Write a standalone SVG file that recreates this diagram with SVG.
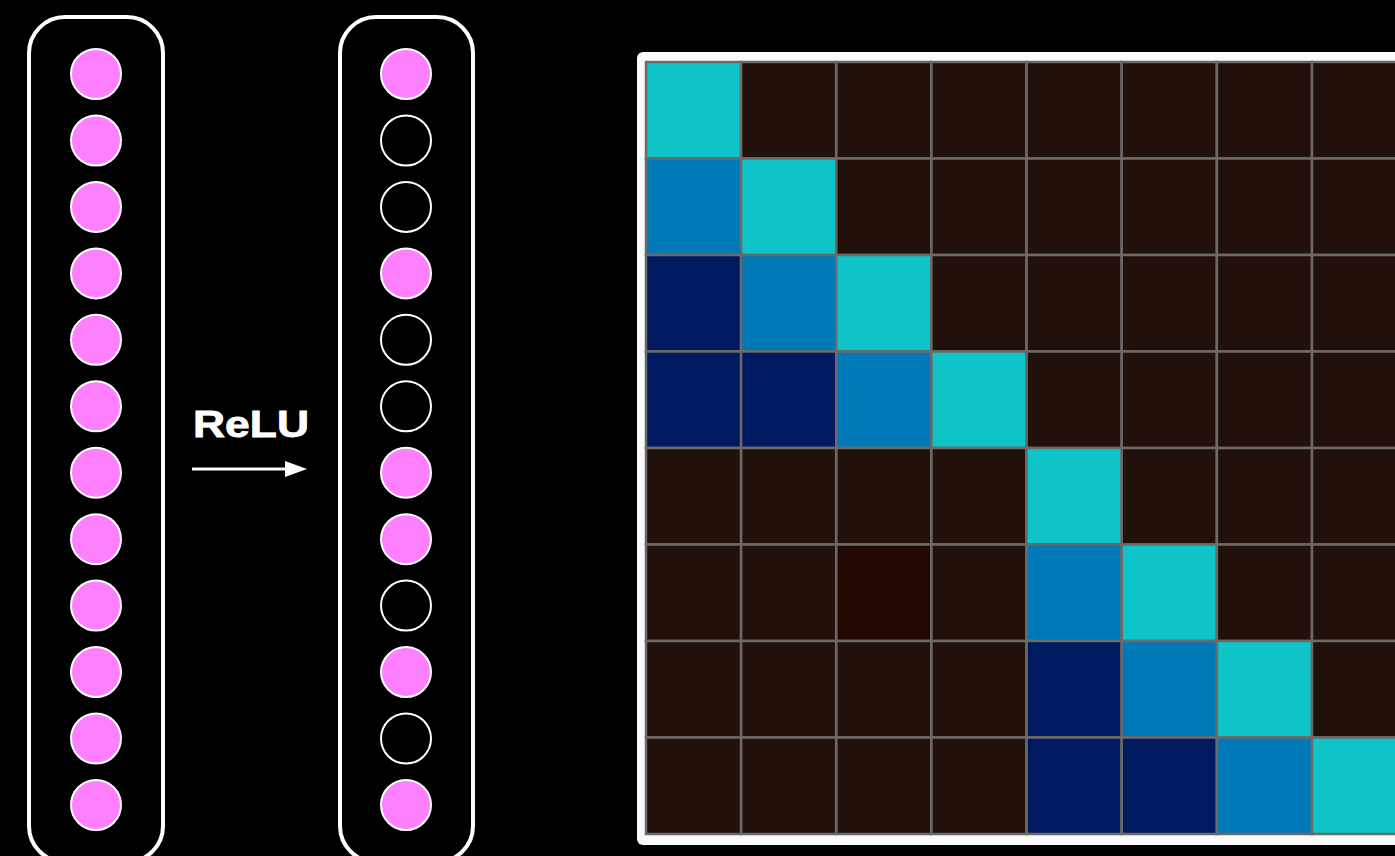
<svg xmlns="http://www.w3.org/2000/svg" width="1395" height="856" viewBox="0 0 1395 856">
<style>
.cap{fill:#000;stroke:#fff;stroke-width:4}
.on{fill:#ff80ff;stroke:#fff;stroke-width:2}
.off{fill:#000;stroke:#fff;stroke-width:2}
.c{stroke:#6c6a68;stroke-width:2.5}
.C{fill:#0ec4c8}.B{fill:#0079b8}.N{fill:#001a62}.D{fill:#22100a}.R{fill:#220800}
.lbl{font-family:"Liberation Sans",Arial,sans-serif;font-weight:bold;font-size:36px;fill:#fff}
</style>
<rect width="1395" height="856" fill="#000"/>
<g id="input-layer">
<rect class="cap" x="29" y="17" width="134" height="845" rx="36"/>
<circle class="on" cx="96" cy="74" r="25"/>
<circle class="on" cx="96" cy="140.5" r="25"/>
<circle class="on" cx="96" cy="206.9" r="25"/>
<circle class="on" cx="96" cy="273.4" r="25"/>
<circle class="on" cx="96" cy="339.8" r="25"/>
<circle class="on" cx="96" cy="406.3" r="25"/>
<circle class="on" cx="96" cy="472.7" r="25"/>
<circle class="on" cx="96" cy="539.2" r="25"/>
<circle class="on" cx="96" cy="605.6" r="25"/>
<circle class="on" cx="96" cy="672.1" r="25"/>
<circle class="on" cx="96" cy="738.5" r="25"/>
<circle class="on" cx="96" cy="805" r="25"/>
</g>
<g id="output-layer">
<rect class="cap" x="340" y="17" width="133" height="845" rx="36"/>
<circle class="on" cx="406" cy="74" r="25"/>
<circle class="off" cx="406" cy="140.5" r="25"/>
<circle class="off" cx="406" cy="206.9" r="25"/>
<circle class="on" cx="406" cy="273.4" r="25"/>
<circle class="off" cx="406" cy="339.8" r="25"/>
<circle class="off" cx="406" cy="406.3" r="25"/>
<circle class="on" cx="406" cy="472.7" r="25"/>
<circle class="on" cx="406" cy="539.2" r="25"/>
<circle class="off" cx="406" cy="605.6" r="25"/>
<circle class="on" cx="406" cy="672.1" r="25"/>
<circle class="off" cx="406" cy="738.5" r="25"/>
<circle class="on" cx="406" cy="805" r="25"/>
</g>
<g id="connectors">
<text class="lbl" x="193" y="437" textLength="116" lengthAdjust="spacingAndGlyphs" stroke="#fff" stroke-width="0.8">ReLU</text>
<line x1="192" y1="469" x2="288" y2="469" stroke="#fff" stroke-width="3"/>
<polygon points="285,461 307,469 285,477" fill="#fff"/>
</g>
<g id="matrix">
<rect x="637" y="52" width="800" height="793" rx="6" fill="#fafafa"/>
<g class="c">
<rect class="C" x="646" y="62" width="95.1" height="96.5"/>
<rect class="D" x="741.1" y="62" width="95.1" height="96.5"/>
<rect class="D" x="836.3" y="62" width="95.1" height="96.5"/>
<rect class="D" x="931.4" y="62" width="95.1" height="96.5"/>
<rect class="D" x="1026.6" y="62" width="95.1" height="96.5"/>
<rect class="D" x="1121.7" y="62" width="95.1" height="96.5"/>
<rect class="D" x="1216.9" y="62" width="95.1" height="96.5"/>
<rect class="D" x="1312" y="62" width="95.1" height="96.5"/>

<rect class="B" x="646" y="158.5" width="95.1" height="96.5"/>
<rect class="C" x="741.1" y="158.5" width="95.1" height="96.5"/>
<rect class="D" x="836.3" y="158.5" width="95.1" height="96.5"/>
<rect class="D" x="931.4" y="158.5" width="95.1" height="96.5"/>
<rect class="D" x="1026.6" y="158.5" width="95.1" height="96.5"/>
<rect class="D" x="1121.7" y="158.5" width="95.1" height="96.5"/>
<rect class="D" x="1216.9" y="158.5" width="95.1" height="96.5"/>
<rect class="D" x="1312" y="158.5" width="95.1" height="96.5"/>

<rect class="N" x="646" y="255" width="95.1" height="96.5"/>
<rect class="B" x="741.1" y="255" width="95.1" height="96.5"/>
<rect class="C" x="836.3" y="255" width="95.1" height="96.5"/>
<rect class="D" x="931.4" y="255" width="95.1" height="96.5"/>
<rect class="D" x="1026.6" y="255" width="95.1" height="96.5"/>
<rect class="D" x="1121.7" y="255" width="95.1" height="96.5"/>
<rect class="D" x="1216.9" y="255" width="95.1" height="96.5"/>
<rect class="D" x="1312" y="255" width="95.1" height="96.5"/>

<rect class="N" x="646" y="351.5" width="95.1" height="96.5"/>
<rect class="N" x="741.1" y="351.5" width="95.1" height="96.5"/>
<rect class="B" x="836.3" y="351.5" width="95.1" height="96.5"/>
<rect class="C" x="931.4" y="351.5" width="95.1" height="96.5"/>
<rect class="D" x="1026.6" y="351.5" width="95.1" height="96.5"/>
<rect class="D" x="1121.7" y="351.5" width="95.1" height="96.5"/>
<rect class="D" x="1216.9" y="351.5" width="95.1" height="96.5"/>
<rect class="D" x="1312" y="351.5" width="95.1" height="96.5"/>

<rect class="D" x="646" y="448" width="95.1" height="96.5"/>
<rect class="D" x="741.1" y="448" width="95.1" height="96.5"/>
<rect class="D" x="836.3" y="448" width="95.1" height="96.5"/>
<rect class="D" x="931.4" y="448" width="95.1" height="96.5"/>
<rect class="C" x="1026.6" y="448" width="95.1" height="96.5"/>
<rect class="D" x="1121.7" y="448" width="95.1" height="96.5"/>
<rect class="D" x="1216.9" y="448" width="95.1" height="96.5"/>
<rect class="D" x="1312" y="448" width="95.1" height="96.5"/>

<rect class="D" x="646" y="544.5" width="95.1" height="96.5"/>
<rect class="D" x="741.1" y="544.5" width="95.1" height="96.5"/>
<rect class="R" x="836.3" y="544.5" width="95.1" height="96.5"/>
<rect class="D" x="931.4" y="544.5" width="95.1" height="96.5"/>
<rect class="B" x="1026.6" y="544.5" width="95.1" height="96.5"/>
<rect class="C" x="1121.7" y="544.5" width="95.1" height="96.5"/>
<rect class="D" x="1216.9" y="544.5" width="95.1" height="96.5"/>
<rect class="D" x="1312" y="544.5" width="95.1" height="96.5"/>

<rect class="D" x="646" y="641" width="95.1" height="96.5"/>
<rect class="D" x="741.1" y="641" width="95.1" height="96.5"/>
<rect class="D" x="836.3" y="641" width="95.1" height="96.5"/>
<rect class="D" x="931.4" y="641" width="95.1" height="96.5"/>
<rect class="N" x="1026.6" y="641" width="95.1" height="96.5"/>
<rect class="B" x="1121.7" y="641" width="95.1" height="96.5"/>
<rect class="C" x="1216.9" y="641" width="95.1" height="96.5"/>
<rect class="D" x="1312" y="641" width="95.1" height="96.5"/>

<rect class="D" x="646" y="737.5" width="95.1" height="96.5"/>
<rect class="D" x="741.1" y="737.5" width="95.1" height="96.5"/>
<rect class="D" x="836.3" y="737.5" width="95.1" height="96.5"/>
<rect class="D" x="931.4" y="737.5" width="95.1" height="96.5"/>
<rect class="N" x="1026.6" y="737.5" width="95.1" height="96.5"/>
<rect class="N" x="1121.7" y="737.5" width="95.1" height="96.5"/>
<rect class="B" x="1216.9" y="737.5" width="95.1" height="96.5"/>
<rect class="C" x="1312" y="737.5" width="95.1" height="96.5"/>
</g>
</g>
</svg>
